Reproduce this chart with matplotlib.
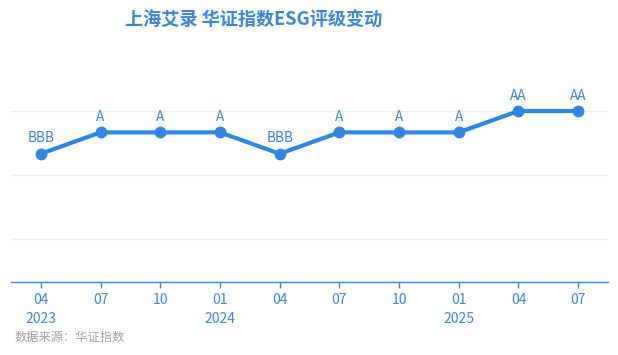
import matplotlib
matplotlib.use('Agg')
import matplotlib.pyplot as plt

plt.rcParams['font.family'] = ['Noto Sans CJK SC', 'DejaVu Sans']

# 数据
months = ['04', '07', '10', '01', '04', '07', '10', '01', '04', '07']
years = {0: '2023', 3: '2024', 7: '2025'}
ratings = ['BBB', 'A', 'A', 'A', 'BBB', 'A', 'A', 'A', 'AA', 'AA']
rating_scale = {'CCC': 1, 'B': 2, 'BB': 3, 'BBB': 4, 'A': 5, 'AA': 6, 'AAA': 7}

line_color = '#2f87e3'
text_color = '#3a86d6'

x = list(range(len(months)))
y = [rating_scale[r] for r in ratings]

fig = plt.figure(figsize=(6.18, 3.55), dpi=100)
ax = fig.add_axes([11 / 618, 73 / 355, 597 / 618, 171 / 355])

ax.plot(x, y, color=line_color, lw=3, marker='o', ms=7.5, clip_on=False, zorder=3)
for xx, yy, r in zip(x, y, ratings):
    ax.annotate(r, (xx, yy), xytext=(0, 6), textcoords='offset points',
                ha='center', va='bottom', fontsize=9.8, color=text_color)

ax.set_xlim(-0.5, len(months) - 0.5)
ax.set_ylim(-2, 6)
ax.set_yticks([0, 3, 6])
ax.yaxis.grid(True, color='#eeeeee', lw=1)
ax.tick_params(axis='y', length=0, labelleft=False)

labels = [m + ('\n' + years[i] if i in years else '') for i, m in enumerate(months)]
ax.set_xticks(x)
ax.set_xticklabels(labels, fontsize=10, color=text_color, linespacing=1.4, va='top')
ax.tick_params(axis='x', length=4, width=1, color=line_color, pad=4)

for s in ['top', 'right', 'left']:
    ax.spines[s].set_visible(False)
ax.spines['bottom'].set_color(line_color)
ax.spines['bottom'].set_linewidth(1)
ax.set_axisbelow(True)

fig.text(254 / 618, 1 - 20 / 355, '上海艾录 华证指数ESG评级变动', ha='center', va='center',
         fontsize=13.1, fontweight='bold', color=text_color)
fig.text(15 / 618, 1 - 337 / 355, '数据来源：华证指数', ha='left', va='center',
         fontsize=8.8, color='#a0a0a0')

fig.savefig('out.png', dpi=100)
